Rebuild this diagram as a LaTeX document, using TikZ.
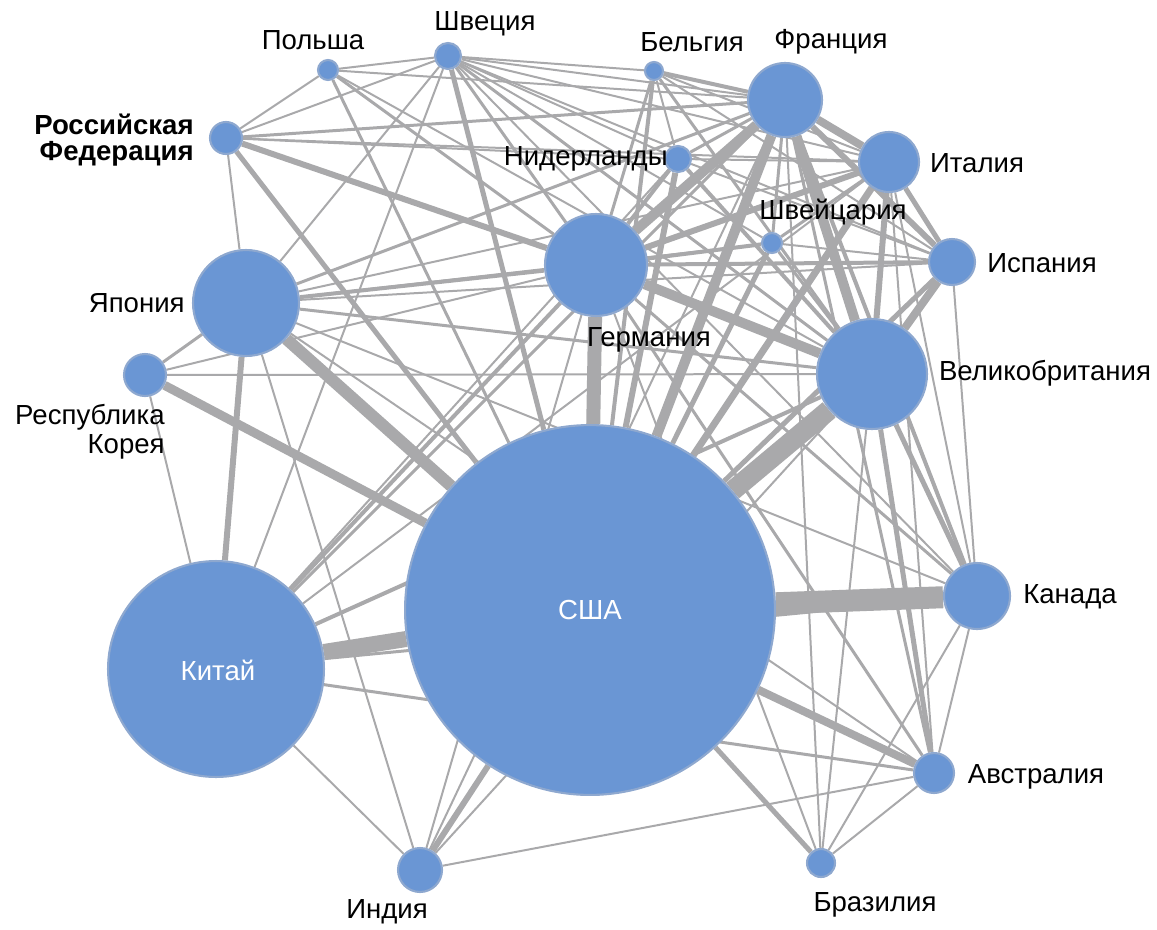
\documentclass[tikz,border=0pt]{standalone}
\usepackage{fontspec}
\setmainfont{Liberation Sans}
\usetikzlibrary{backgrounds}

\tikzset{
	land/.style={circle,inner sep=0pt,minimum size=#1*0.04cm,fill=nodeblue,draw=rimblue,line width=1.2pt},
	tie/.style={draw=tiegray,line width=#1*0.569pt},
	tag/.style={font=\fontsize{15.7}{18}\selectfont,inner sep=0pt}
}

\begin{document}
\begin{tikzpicture}[x=0.02cm,y=-0.02cm]
		\definecolor{nodeblue}{HTML}{6A96D4}
		\definecolor{rimblue}{HTML}{8EA8CF}
		\definecolor{tiegray}{HTML}{A9A9AB}
		\useasboundingbox (0,0) rectangle (1157,930);
		% countries
		\node[land=185] (usa) at (590,610) {};
		\node[land=108] (chn) at (216,669) {};
		\node[land=53] (jpn) at (246,303) {};
		\node[land=51] (deu) at (596,265) {};
		\node[land=55] (gbr) at (872,374) {};
		\node[land=37] (fra) at (785,100) {};
		\node[land=30] (ita) at (889,162) {};
		\node[land=23] (esp) at (952,262) {};
		\node[land=33] (can) at (977,596) {};
		\node[land=20] (aus) at (934,773) {};
		\node[land=14] (bra) at (821,863) {};
		\node[land=22] (ind) at (420,870) {};
		\node[land=21] (kor) at (145,375) {};
		\node[land=16] (rus) at (226,138) {};
		\node[land=10] (pol) at (328,70) {};
		\node[land=13] (swe) at (448,56) {};
		\node[land=9] (bel) at (654,71) {};
		\node[land=13] (nld) at (678,159) {};
		\node[land=10] (che) at (772,243) {};
		
		\begin{scope}[on background layer]
		% USA
		\draw[tie=22] (usa) -- (can);
		\draw[tie=20] (usa) -- (gbr);
		\draw[tie=16] (usa) -- (chn);
		\draw[tie=14] (usa) -- (deu);
		\draw[tie=12] (usa) -- (jpn);
		\draw[tie=10] (usa) -- (fra);
		\draw[tie=9] (usa) -- (kor);
		\draw[tie=7] (usa) -- (ita);
		\draw[tie=8] (usa) -- (aus);
		\draw[tie=5] (usa) -- (esp);
		\draw[tie=6] (usa) -- (ind);
		\draw[tie=5] (usa) -- (bra);
		\draw[tie=6] (usa) -- (nld);
		\draw[tie=5] (usa) -- (che);
		\draw[tie=5] (usa) -- (swe);
		\draw[tie=5] (usa) -- (rus);
		\draw[tie=4] (usa) -- (bel);
		\draw[tie=3] (usa) -- (pol);
		% China
		\draw[tie=6] (chn) -- (jpn);
		\draw[tie=2] (chn) -- (kor);
		\draw[tie=4] (chn) -- (deu);
		\draw[tie=4] (chn) -- (gbr);
		\draw[tie=3] (chn) -- (fra);
		\draw[tie=3] (chn) -- (can);
		\draw[tie=3] (chn) -- (aus);
		\draw[tie=2] (chn) -- (ind);
		\draw[tie=2] (chn) -- (ita);
		\draw[tie=2] (chn) -- (swe);
		\draw[tie=2] (chn) -- (nld);
		% Japan
		\draw[tie=2] (jpn) -- (rus);
		\draw[tie=3] (jpn) -- (kor);
		\draw[tie=4] (jpn) -- (deu);
		\draw[tie=3] (jpn) -- (gbr);
		\draw[tie=3] (jpn) -- (fra);
		\draw[tie=2] (jpn) -- (ita);
		\draw[tie=2] (jpn) -- (esp);
		\draw[tie=2] (jpn) -- (swe);
		\draw[tie=2] (jpn) -- (can);
		\draw[tie=2] (jpn) -- (aus);
		\draw[tie=2] (jpn) -- (ind);
		\draw[tie=2] (jpn) -- (che);
		% Korea
		\draw[tie=2] (kor) -- (deu);
		\draw[tie=2] (kor) -- (gbr);
		% Russia, Poland
		\draw[tie=6] (rus) -- (deu);
		\draw[tie=2] (rus) -- (pol);
		\draw[tie=2] (rus) -- (swe);
		\draw[tie=3] (rus) -- (fra);
		\draw[tie=2] (rus) -- (nld);
		\draw[tie=2] (rus) -- (ita);
		\draw[tie=2] (pol) -- (swe);
		\draw[tie=3] (pol) -- (deu);
		\draw[tie=2] (pol) -- (fra);
		\draw[tie=2] (pol) -- (gbr);
		% Sweden
		\draw[tie=3] (swe) -- (deu);
		\draw[tie=2] (swe) -- (fra);
		\draw[tie=3] (swe) -- (gbr);
		\draw[tie=2] (swe) -- (nld);
		\draw[tie=2] (swe) -- (bel);
		\draw[tie=2] (swe) -- (ita);
		\draw[tie=2] (swe) -- (esp);
		\draw[tie=2] (swe) -- (che);
		\draw[tie=2] (swe) -- (can);
		% Belgium, Netherlands
		\draw[tie=4] (bel) -- (fra);
		\draw[tie=3] (bel) -- (deu);
		\draw[tie=2] (bel) -- (nld);
		\draw[tie=3] (bel) -- (gbr);
		\draw[tie=2] (bel) -- (ita);
		\draw[tie=2] (bel) -- (esp);
		\draw[tie=4] (nld) -- (deu);
		\draw[tie=3] (nld) -- (fra);
		\draw[tie=4] (nld) -- (gbr);
		\draw[tie=2] (nld) -- (ita);
		\draw[tie=2] (nld) -- (esp);
		% France
		\draw[tie=10] (fra) -- (deu);
		\draw[tie=10] (fra) -- (gbr);
		\draw[tie=8] (fra) -- (ita);
		\draw[tie=6] (fra) -- (esp);
		\draw[tie=3] (fra) -- (che);
		\draw[tie=4] (fra) -- (can);
		\draw[tie=3] (fra) -- (aus);
		\draw[tie=2] (fra) -- (bra);
		\draw[tie=2] (fra) -- (ind);
		% Italy, Spain
		\draw[tie=6] (ita) -- (deu);
		\draw[tie=6] (ita) -- (gbr);
		\draw[tie=5] (ita) -- (esp);
		\draw[tie=3] (ita) -- (che);
		\draw[tie=2] (ita) -- (can);
		\draw[tie=2] (ita) -- (aus);
		\draw[tie=8] (esp) -- (gbr);
		\draw[tie=4] (esp) -- (deu);
		\draw[tie=2] (esp) -- (che);
		\draw[tie=2] (esp) -- (can);
		% Germany, UK
		\draw[tie=10] (deu) -- (gbr);
		\draw[tie=4] (deu) -- (che);
		\draw[tie=3] (deu) -- (can);
		\draw[tie=3] (deu) -- (aus);
		\draw[tie=2] (deu) -- (ind);
		\draw[tie=2] (deu) -- (bra);
		\draw[tie=5] (gbr) -- (can);
		\draw[tie=5] (gbr) -- (aus);
		\draw[tie=3] (gbr) -- (che);
		\draw[tie=2] (gbr) -- (ind);
		\draw[tie=2] (gbr) -- (bra);
		% Canada, Australia, Brazil, India
		\draw[tie=2] (can) -- (aus);
		\draw[tie=2] (can) -- (bra);
		\draw[tie=2] (aus) -- (bra);
		\draw[tie=2] (aus) -- (ind);
		\end{scope}
		
		% labels
		\node[tag] (usat) at (590,610) {\color{white}США};
		\node[tag] (chnt) at (218,670) {\color{white}Китай};
		\node[tag] (polt) at (313,40) {Польша};
		\node[tag] (swet) at (485,24) {Швеция};
		\node[tag] (belt) at (692,42) {Бельгия};
		\node[tag] (frat) at (831,42) {Франция};
		\node[tag,anchor=east,align=right,font=\fontsize{15.7}{14.4}\selectfont\bfseries] (rust) at (194,140) {Российская\\Федерация};
		\node[tag,anchor=east] (nldt) at (668,159) {Нидерланды};
		\node[tag] (chet) at (833,212) {Швейцария};
		\node[tag] (itat) at (977,163) {Италия};
		\node[tag] (espt) at (1042,263) {Испания};
		\node[tag] (deut) at (649,340) {Германия};
		\node[tag,anchor=east] (jpnt) at (185,303) {Япония};
		\node[tag] (gbrt) at (1045,373) {Великобритания};
		\node[tag,anchor=east,align=right,font=\fontsize{15.7}{16.5}\selectfont] (kort) at (165,432) {Республика\\Корея};
		\node[tag] (cant) at (1070,597) {Канада};
		\node[tag] (aust) at (1036,777) {Австралия};
		\node[tag] (brat) at (875,905) {Бразилия};
		\node[tag] (indt) at (387,912) {Индия};
		
\end{tikzpicture}
\end{document}
